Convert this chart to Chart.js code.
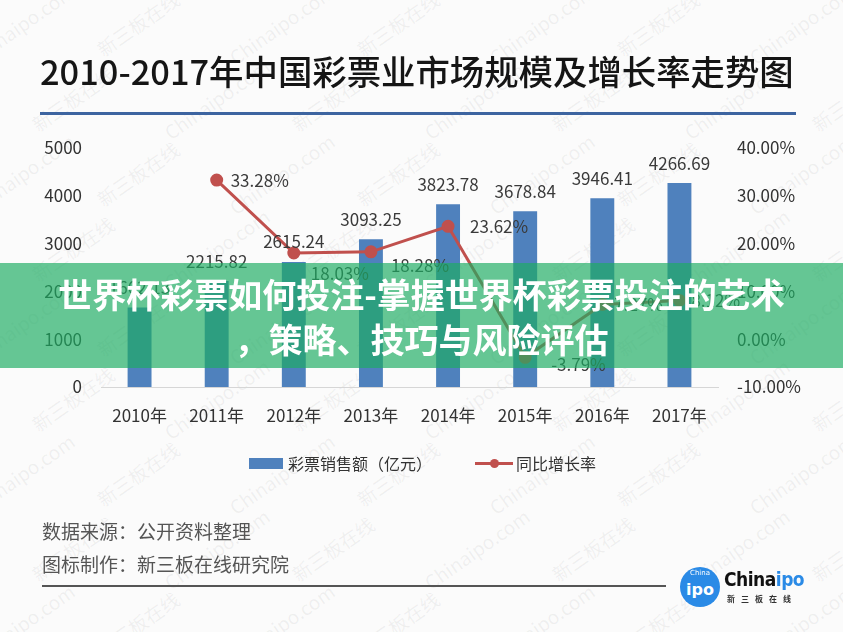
<!DOCTYPE html>
<html lang="zh">
<head>
<meta charset="utf-8">
<title>2010-2017年中国彩票业市场规模及增长率走势图</title>
<script src="https://cdn.jsdelivr.net/npm/chart.js@4/dist/chart.umd.min.js"></script>
<style>
  html, body { margin: 0; padding: 0; }
  body {
    width: 843px; height: 632px; position: relative; overflow: hidden;
    background: #fbfbfb;
    font-family: "Noto Sans CJK SC", "Noto Sans", sans-serif;
  }
  #watermarks { position: absolute; inset: 0; z-index: 0; pointer-events: none; }
  #watermarks span {
    position: absolute; font-size: 19px; color: rgba(120,120,120,0.09);
    transform: rotate(-35deg); white-space: nowrap;
  }
  #title {
    position: absolute; left: 40px; top: 45px; z-index: 2;
    font-size: 34.4px; font-weight: 500; color: #151515; line-height: 50px; white-space: nowrap;
  }
  #title-rule { position: absolute; left: 40px; top: 112px; width: 756px; height: 3px; background: #3d64a0; z-index: 2; }
  #chart { position: absolute; left: 0; top: 0; z-index: 1; }
  .legend { position: absolute; top: 451px; height: 24px; display: flex; align-items: center; z-index: 2;
    font-size: 16px; color: #333; }
  .legend .box { width: 34px; height: 11px; background: #4f81bd; margin-right: 5px; }
  .legend .ln { width: 38px; height: 3px; background: #c0504d; position: relative; margin-right: 3px; }
  .legend .ln::after { content: ""; position: absolute; left: 15px; top: -3px; width: 9px; height: 9px; border-radius: 50%; background: #c0504d; }
  .note { position: absolute; left: 42px; font-size: 19px; color: #555; z-index: 2; white-space: nowrap; }
  #rule { position: absolute; left: 42px; top: 585px; width: 624px; height: 2px; background: #555; z-index: 2; }
  #logo { position: absolute; left: 680px; top: 567px; z-index: 2; }
  #logo .circ { position: absolute; left: 0; top: 0; width: 40px; height: 40px; border-radius: 50%; background: #2a8ae6;
    color: #fff; font-weight: 700; font-size: 16px; text-align: center; line-height: 46px; font-family: "DejaVu Sans", sans-serif; }
  #logo .circ small { position: absolute; left: 0; right: 0; top: -17px; font-size: 7px; font-weight: 400; }
  #logo .name { position: absolute; left: 44px; top: 1px; font-size: 19px; font-weight: 700; color: #111; font-family: "DejaVu Sans Condensed", "DejaVu Sans", sans-serif; letter-spacing: -0.5px; white-space: nowrap; }
  #logo .name b { color: #2a8ae6; }
  #logo .sub { position: absolute; left: 47px; top: 26px; font-size: 8px; font-weight: 700; color: #333; letter-spacing: 6px; white-space: nowrap; }
  #banner {
    position: absolute; left: 0; top: 263px; width: 843px; height: 105px; z-index: 3;
    background: rgba(30,173,99,0.68); color: #fff; font-weight: 700; font-size: 34px;
    text-align: center; line-height: 45px; padding-top: 8px; box-sizing: border-box;
  }
</style>
</head>
<body>
<div id="watermarks"></div>
<div id="title">2010-2017年中国彩票业市场规模及增长率走势图</div>
<div id="title-rule"></div>
<canvas id="chart" width="843" height="632"></canvas>

<div class="legend" style="left:249px"><span class="box"></span>彩票销售额（亿元）</div>
<div class="legend" style="left:475px"><span class="ln"></span>同比增长率</div>

<div class="note" style="top:517px">数据来源：公开资料整理</div>
<div class="note" style="top:550px">图标制作：新三板在线研究院</div>
<div id="rule"></div>
<div id="logo">
  <div class="circ"><small>China</small>ipo</div>
  <div class="name">China<b>ipo</b></div>
  <div class="sub">新三板在线</div>
</div>

<div id="banner">世界杯彩票如何投注-掌握世界杯彩票投注的艺术<br>，策略、技巧与风险评估</div>

<script>
// 数据
const years = ['2010年', '2011年', '2012年', '2013年', '2014年', '2015年', '2016年', '2017年'];
const sales = [1662.13, 2215.82, 2615.24, 3093.25, 3823.78, 3678.84, 3946.41, 4266.69];   // 亿元
const growth = [null, 33.28, 18.03, 18.28, 23.62, -3.79, 7.27, 8.12];                    // %

// 增长率标签的偏移（像素）
const growthLabelDx = [0, 14, 17, 20, 22, 26, 12, 12];
const growthLabelDy = [0, 0, 21, 14, 0, 7, 0, 0];

const barColor = '#4f81bd';
const lineColor = '#c0504d';
const tickFont = { family: '"Noto Sans CJK SC", sans-serif', size: 17 };

// 水印
const wm = document.getElementById('watermarks');
for (let row = 0; row < 9; row++) {
  for (let col = 0; col < 8; col++) {
    const s = document.createElement('span');
    s.textContent = (row + col) % 2 === 0 ? 'Chinaipo.com' : '新三板在线';
    s.style.left = (col * 130 - 40 + (row % 2) * 65) + 'px';
    s.style.top = (row * 75 + 10) + 'px';
    wm.appendChild(s);
  }
}

// 数据标签插件
const valueLabels = {
  id: 'valueLabels',
  afterDatasetsDraw(chart) {
    const ctx = chart.ctx;
    ctx.save();
    ctx.font = '17px "Noto Sans CJK SC", sans-serif';
    ctx.fillStyle = '#3a3a3a';
    ctx.textBaseline = 'middle';

    ctx.textAlign = 'center';
    chart.getDatasetMeta(0).data.forEach((bar, i) => {
      ctx.fillText(sales[i].toFixed(2), bar.x, bar.y - 20);
    });

    ctx.textAlign = 'left';
    chart.getDatasetMeta(1).data.forEach((pt, i) => {
      if (growth[i] === null) return;
      ctx.fillText(growth[i].toFixed(2) + '%', pt.x + growthLabelDx[i], pt.y + growthLabelDy[i]);
    });
    ctx.restore();
  }
};

new Chart(document.getElementById('chart'), {
  data: {
    labels: years,
    datasets: [
      {
        type: 'bar',
        label: '彩票销售额（亿元）',
        data: sales,
        backgroundColor: barColor,
        yAxisID: 'y',
        categoryPercentage: 1,
        barPercentage: 0.31,
        order: 1
      },
      {
        type: 'line',
        label: '同比增长率',
        data: growth,
        borderColor: lineColor,
        backgroundColor: lineColor,
        borderWidth: 3,
        pointRadius: 5,
        pointHoverRadius: 5,
        yAxisID: 'y1',
        tension: 0,
        order: 0
      }
    ]
  },
  options: {
    responsive: false,
    animation: false,
    layout: { padding: { left: 0, right: 0, top: 148, bottom: 195 } },
    plugins: { legend: { display: false }, tooltip: { enabled: false } },
    scales: {
      x: {
        grid: { display: false, drawTicks: false },
        border: { display: true, color: '#d6d6d6', width: 1 },
        ticks: { font: tickFont, color: '#333', padding: 18, maxRotation: 0 },
        afterFit: s => { s.height = 50; }
      },
      y: {
        position: 'left',
        min: 0, max: 5000,
        grid: { display: false, drawTicks: false },
        border: { display: false },
        ticks: { stepSize: 1000, font: tickFont, color: '#333', padding: 19,
                 callback: v => String(v) },
        afterFit: s => { s.width = 101; }
      },
      y1: {
        position: 'right',
        min: -10, max: 40,
        grid: { display: false, drawTicks: false },
        border: { display: false },
        ticks: { stepSize: 10, font: tickFont, color: '#333', padding: 19,
                 callback: v => v.toFixed(2) + '%' },
        afterFit: s => { s.width = 125; }
      }
    }
  },
  plugins: [valueLabels]
});
</script>
</body>
</html>
